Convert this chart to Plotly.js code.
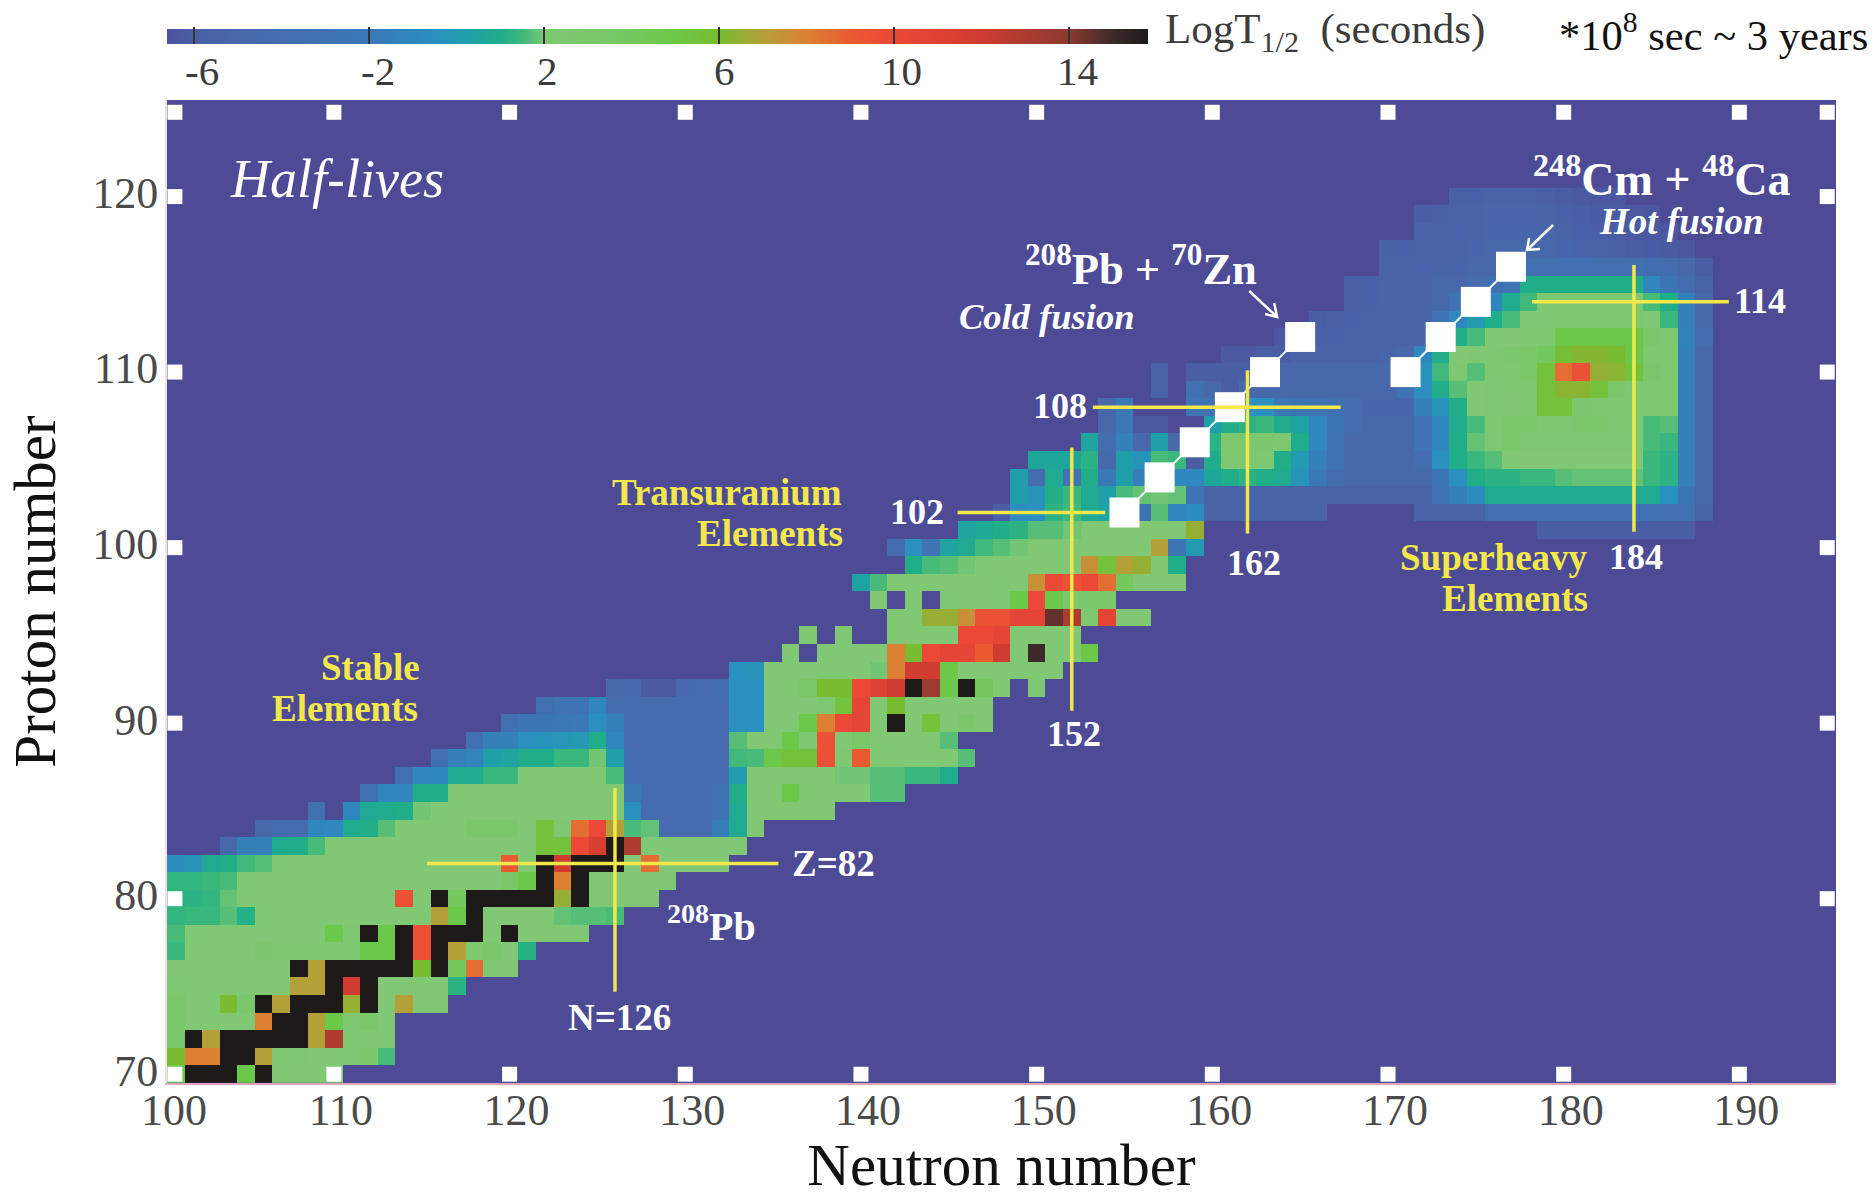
<!DOCTYPE html>
<html><head><meta charset="utf-8">
<script src="https://cdn.plot.ly/plotly-3.0.1.min.js"></script>
<style>html,body{margin:0;padding:0;background:#fff}#chart{width:1874px;height:1198px}</style>
</head><body><div id="chart"></div>
<script>
// Each row: first neutron number, then log10(T1/2); null = no nuclide (background)
const row70=[101,5,16,16,16,5,16,2,2,2,2];
const row71=[101,6,8,8,16,16,7,2,2.2,2,2,2.5,3,1.6];
const row72=[101,3,16,7,16,16,16,16,16,7,13,2,2,2];
const row73=[101,3,2,2,2,2,8,16,16,7,5,2.5,3,2];
const row74=[101,3,2,2,6,3,16,7,16,16,16,6.5,16,2,7,2,2];
const row75=[101,2.5,2,2,2,2,2,2,7,7,16,12,16,2,2,2,2,1.2];
const row76=[101,2,2,2,2,2,2,2,16,7,16,16,16,16,16,6,16,4,8.5,2,2];
const row77=[101,1.4,2,2,2,2,2.6,2.2,2.2,2.2,2.2,2.2,5,5,16,9.5,16,7,2.5,3,2,1.1];
const row78=[101,1.6,2,2,2,2,2,2,2,2,5,2.2,16,5,16,9.5,16,16,16,2,16,2,2,2,2];
const row79=[101,1.3,1.4,1.4,1.7,1.1,2,2,2,2,2,2,2,2,2,2,7,5,16,2,2,2,2,1.8,1.7,1.7,1.6];
const row80=[101,1.2,1.2,1.3,1.8,2,2,2,2,2,2,2,2,2,9.5,2,16,4,16,16,16,16,16,6.5,16,2,2,2,2];
const row81=[101,1.3,1.3,1.4,1.6,2,2,2,2,2,2,2,2,2,2,2,2,2,2,2,3.5,5,16,8,16,2,2,2,2,2];
const row82=[101,-0.6,-0.3,0.8,1,1.5,1.7,2,2,2,2,2,2,2,2,2,2,2,2,2,9,2.5,16,12,16,16,16,2,8.5,2,2,2,2];
const row83=[104,-5,-1.5,-1.5,0.9,1,1.6,2,2,2,2,2,2,2,2,2,2,2,2,5.5,5.5,10,11.5,16,13,2,2,2,2,2,2];
const row84=[106,-5,-4.5,-4.5,-1,-0.8,0.9,1,1.7,2,2,2,2,3,3,3,2,5.5,2.5,8.5,10,7,1.6,1.8,-4.5,-4.5,-4.5,-1.5,0.8,2];
const row85=[109,-3.5,null,-1,0.8,0.9,1,1.9,2,2,2,2,2,2,2,2,2,2,2,-0.5,-4,-4.5,-4.5,-4.5,-3,0.8,2,2,2,2,2];
const row86=[112,-3.5,-1,-1,1,1,2,2,2,2,2,2,2,2,2,2,-2,-4.5,-4.5,-4.5,-4.5,-3,1,2,2,5,2,2,2,2,1.7,1.7];
const row87=[114,-3.5,-1,-0.8,0.8,0.8,1.4,1.4,2,2,2,2,2,1.6,-4,-4.5,-4.5,-4.5,-4.5,-4.5,0,2,2,2,2,2,1.9,1.9,1.7,1.7,1.4,1.4,0.9];
const row88=[116,-3.5,-1.5,-1.2,0.3,0.5,1,1,1.4,1.4,1.9,0.3,-4,-4.5,-4.5,-4.5,-4.5,-4.5,1.5,1.6,5,5.5,5.5,9.5,2.5,9,2,2,2,2,2,1.7];
const row89=[118,-3.5,-1.5,-1.4,-0.5,-0.3,-0.2,-0.1,1,-1,-4.5,-4.5,-4.5,-4.5,-4.5,-4.5,1.7,2,2,5,2.5,9.5,2,3.5,2,2,2,2,1.7];
const row90=[120,-3.5,-2.5,-2.5,-2.2,-2,-0.5,-1.5,-4.5,-4.5,-4.5,-4.5,-4.5,-4.5,-0.5,-0.5,2,2,5,8,10,10.5,2,16,2,5.5,2,3,2];
const row91=[122,-3.5,-3,-3,-1,-4,-4.5,-4.5,-4.5,-4.5,-4.5,-4.5,-0.4,-0.5,2,2,2,2.5,5.5,10.5,2,6,2,2,2,2,2];
const row92=[126,-5,-4.8,-6.2,-6.2,-4.8,-4.5,-4,-0.4,-0.5,2,2.5,3.5,6,6,10,11,12,16,13.5,5,16,4,2,null,2];
const row93=[133,-0.4,-0.3,2,2,2,2,2,2,1.9,8,12,12,5,2,2,2,2,2,2];
const row94=[136,2,null,2,2,2,2,8,6,10,10.5,10.5,9,12,2,15,2,2,5];
const row95=[137,2.5,null,2,null,null,2,2,2,2,10,10,10.5,2,2,2,2];
const row96=[142,2,2,6.5,6.5,7.5,9.5,9.5,10.5,10.5,14.5,13,2.5,10.5,2,2];
const row97=[141,2,null,2,null,2,2,2,2.5,5,10,5,3,3,3];
const row98=[140,0.4,1.6,2,2,2,2,2,2,2.5,2,7.5,10,9.5,10,8.5,4,2,2,2];
const row99=[143,1,1.6,1.7,1.9,2,2,2,2,2,2,7.5,5.5,7,6.5,2,1];
const row100=[142,-4,-0.5,-3,0.5,0.8,1.5,1.7,1.9,2,2,2,2,2,2,2,7,-2.5,0];
const row101=[146,0.5,0.7,1,1.2,1.7,1.7,1.9,2,2,2,2,2,2,6.5];
const row101b=[179,-6,-6,-6,-6,-6,-6,-6,-6,-6];
const row102=[148,-6,-0.6,-0.5,1.2,1.5,0.8,0.5,1,-3,1.7,-1,-0.6,-5.5,-5.5,-5.5,-5.5,-5.5,-5.5,-5.5,null,null,null,null,null,-5.5,-5.5,-5.5,-5.5,-3.5,-3.5,-3.5,-3.5,-3.5,-3.5,-3.5,-3.5,-3.5,-3.5,-3.5,-3.5,-5.5];
const row103=[149,0.2,-0.3,1,1.4,0.8,0.3,1.6,1.8,1.9,1.8,-3,-5.5,-5.5,-5.5,-5.5,-5.5,-5.5,-5.5,-5.5,-5.5,-5.5,-5.5,-5.5,-5.5,-3,-1.5,-0.6,0.8,0.8,0.8,0.8,0.8,0.8,0.8,0.8,0.8,0.8,-0.4,-2.5,-5];
const row104=[149,0.2,-4,0.8,-3,1,-2,0.3,-1.5,1,-0.8,-0.8,0.6,1,1.2,1,0.8,-0.3,-2,-4,-5,-5,-5,-5,-5,-2.5,-0.5,1,1.2,1.2,1.4,1.4,1.7,1.8,1.8,1.8,1.8,1.4,1.2,-1.5,-5];
const row105=[150,0.6,0.6,0.6,1.2,-5,0.3,-0.3,1.6,1.4,-6,1,2.3,2.5,2.3,1,0,-1.5,-3,-5,-5,-5,-5,-4,-0.5,1,1.4,1.7,2,2,2,2,2,2,2,2,1.4,1.2,-1.5,-5];
const row106=[153,0.5,-4,-1.5,-5,0.3,-5,0,1.2,2.5,2.6,2.6,2.4,0.9,-0.8,-3,-5,-5,-5,-5,-3,-1,1,1.8,2.1,3,2.1,2.1,2.1,2.1,2.1,2.1,2.1,1.6,1.4,-1.5,-5];
const row107=[154,-5,-2,-6.3,-6.3,null,null,0.3,1,1.2,1.4,0.9,0.4,-1,-2.5,-4,-5,-5,-5,-3,-1,0.9,1.6,2.2,3.4,3,2.2,2.2,3,3,2.2,2.2,1.6,1.7,-1.5,-5];
const row108=[154,-5,-2,null,null,null,-3,-3,-1,-0.5,-0.5,-2,-2.5,-3,-3.5,-4.5,-5.2,-5.2,-5.2,-1.5,-0.3,1,2,2.5,2,2.2,5.5,5.5,2.6,2.4,2.2,2.2,2.2,2.2,-1.5,-5];
const row109=[157,-5.5,null,-3.5,-5,-6,-5,-5,-5,-5,-5,-5,-5,-5,-5,-3,-0.5,1,1.7,2,2.1,2.2,2.2,5.5,6.3,6.3,5.5,3,2.5,2.2,2.2,-1.5,-5];
const row110=[157,-5.5,null,-6,-6,-6,-6,-5,-5,-5,-5,-5,-5,-5,-5,-3,-0.3,1.5,2.2,1.7,2.2,2.2,3,5.5,8.5,9.5,6.5,6.3,5.5,3,2.2,-1.5,-5];
const row111=[161,-6.3,-6.3,-6,-6,-5.5,-5.5,-5.5,-5.5,-5.5,-5.3,-5,-1,1,2,2.1,2.5,2.8,3,4,5.8,6.2,6.2,6,5,2.5,2.2,-1.5,-5];
const row112=[164,-6.3,-6,-5.8,-5.7,-5.6,-5.5,-5.5,-5.5,-5.5,-1,1,1.6,2,2,2.2,2.2,5,5,5,5,5,3,2.2,-1.3,-4.5];
const row113=[166,-6,-5.8,-5.7,-5.6,-5.5,-5.5,-5.3,-3,-1,0,1,1.6,2,2.2,2.2,2.2,2.2,2.2,2.2,2,1.4,-1.5,-5];
const row114=[168,-5.8,-5.7,-5.5,-5.5,-5.3,-5,-3,-1,-1,0.9,1.5,2.5,2.5,2.5,2.5,2.5,2.5,1.6,1,-1.5,-5];
const row115=[168,-5.8,-5.7,-5.5,-5.5,-5.3,-5,-5,-4.5,-3.5,-3,1,1,1,1,1,1,1,-1,-2.5,-4,-5.5];
const row116=[170,-5.6,-5.5,-5.4,-5.3,-5.2,-5,-5,-4,-3.5,-3.5,-3.5,-3.5,-3.5,-3.5,-3.5,-3.8,-4,-5,-6];
const row117=[170,-5.8,-5.7,-5.6,-5.5,-5.3,-5.2,-5,-5,-5,-5,-5.2,-5.4,-5.6,-5.8,-6,-6.1,-6.2,-6.4];
const row118=[172,-5.6,-5.5,-5.4,-5.3,-5.2,-5.2,-5.2,-5.3,-5.5,-5.7,-5.9,-6,-6.2,-6.3,-6.4];
const row119=[172,-6,-5.8,-5.6,-5.5,-5.4,-5.4,-5.4,-5.5,-5.7,-5.9,-6.1,-6.2,-6.3,-6.4];
const row120=[174,-5.8,-5.7,-5.6,-5.6,-5.6,-5.8,-6,-6.2,-6.3,-6.4];
const rowList=[[70,row70],[71,row71],[72,row72],[73,row73],[74,row74],[75,row75],[76,row76],[77,row77],[78,row78],[79,row79],
[80,row80],[81,row81],[82,row82],[83,row83],[84,row84],[85,row85],[86,row86],[87,row87],[88,row88],[89,row89],
[90,row90],[91,row91],[92,row92],[93,row93],[94,row94],[95,row95],[96,row96],[97,row97],[98,row98],[99,row99],
[100,row100],[101,row101],[101,row101b],[102,row102],[103,row103],[104,row104],[105,row105],[106,row106],[107,row107],[108,row108],[109,row109],
[110,row110],[111,row111],[112,row112],[113,row113],[114,row114],[115,row115],[116,row116],[117,row117],[118,row118],[119,row119],[120,row120]];

const neutrons=[];for(let n=101;n<=195;n++)neutrons.push(n);
const protons=[];for(let p=70;p<=120;p++)protons.push(p);
const cells=protons.map(()=>neutrons.map(()=>null));
rowList.forEach(([p,r])=>{r.slice(1).forEach((v,i)=>{cells[p-70][r[0]+i-101]=v;});});

// Colour key
const keyValues=[-6.64,-6,-5,-2,-0.5,0.3,1,1.6,2,3.5,5,6,7,8,9,10,12,14,15,15.8];
const keyColors=['#4b539e','#4a5ea6','#4868ac','#3a78b6','#2b8fc0','#1fa0a8','#1fae88','#48bb78','#80c874','#78c868','#6cc848','#78bc30','#b4a038','#dc8034','#ea5a30','#ec4838','#d03c30','#8a3a30','#3c2a2a','#1e1a1a'];
const zLow=keyValues[0],zHigh=keyValues[keyValues.length-1];
const colorscale=keyValues.map((v,i)=>[(v-zLow)/(zHigh-zLow),keyColors[i]]);
const keyTicks=[-6,-2,2,6,10,14];
const keyLabelX=[202,378,547,724,901,1077];

// Reaction chains
const coldN=[155,157,159,161,163,165],coldZ=[102,104,106,108,110,112];
const hotN=[171,173,175,177],hotZ=[110,112,114,116];
// Frame ticks
const xTickVals=[100.5,110,120,130,140,150,160,170,180,190];
const xTickText=['100','110','120','130','140','150','160','170','180','190'];
const yTickVals=[70,80,90,100,110,120];
const frameTopN=[100.95,110,120,130,140,150,160,170,180,190];
const frameSideZ=[80,90,100,110,120];

const SERIF='"Liberation Serif","Times New Roman",serif';
const L=166.5,R=1836,T=100,B=1083;
const pxX=x=>(x-L)/(R-L),pxY=y=>(B-y)/(B-T);
function ann(text,x,y,size,color,anchor){return {text,x:pxX(x),y:pxY(y),xref:'paper',yref:'paper',showarrow:false,xanchor:anchor||'center',yanchor:'middle',font:{family:SERIF,size,color}};}
const YEL='#f2e84a',WH='#ffffff';
const annotations=[
 ann('<i>Half-lives</i>',337,179,54,WH),
 ann('<b>Stable</b>',370,667,37,YEL),ann('<b>Elements</b>',345,708,37,YEL),
 ann('<b>Transuranium</b>',727,492,37,YEL),ann('<b>Elements</b>',770,533,37,YEL),
 ann('<b>Superheavy</b>',1494,557,37,YEL),ann('<b>Elements</b>',1515,598,37,YEL),
 ann('<b>102</b>',917,512,36,WH),ann('<b>108</b>',1060,406,36,WH),ann('<b>152</b>',1074,734,36,WH),
 ann('<b>162</b>',1254,563,36,WH),ann('<b>184</b>',1636,557,36,WH),ann('<b>114</b>',1760,301,36,WH),
 ann('<b>Z=82</b>',833,863,37,WH),ann('<b>N=126</b>',619,1017,37,WH),
 ann('<b><sup>208</sup>Pb</b>',711,923,40,WH),
 ann('<b><sup>208</sup>Pb + <sup>70</sup>Zn</b>',1141,265,44.5,WH),ann('<b><i>Cold fusion</i></b>',1046,316,36.5,WH),
 ann('<b><sup>248</sup>Cm + <sup>48</sup>Ca</b>',1661,176,46,WH),ann('<b><i>Hot fusion</i></b>',1681,221,37,WH),
 ann('LogT<sub>1/2</sub>&nbsp; (seconds)',1163,32,43,'#3c3c3c','left'),
 ann('*10<sup>8</sup> sec ~ 3 years',1557,32,42.5,'#111111','left')
].concat(keyTicks.map((t,i)=>ann(String(t),keyLabelX[i],71,41,'#3c3c3c')));
function seg(x0,y0,x1,y1){return {type:'line',xref:'x',yref:'y',x0,y0,x1,y1,line:{color:YEL,width:3.5}};}
function arrowPath(d){return {type:'path',xref:'paper',yref:'paper',path:d,line:{color:WH,width:2.5}};}
const P=(x,y)=>pxX(x)+','+pxY(y);
const shapes=[
 seg(115.3,82,135.3,82),seg(126,86.3,126,74.7),
 seg(145.5,102,153.9,102),seg(152,105.7,152,90.7),
 seg(153.2,108,167.3,108),seg(162,110.1,162,100.8),
 seg(178.2,114,189.4,114),seg(184,116.1,184,100.9),
 arrowPath('M'+P(1249,291)+' L'+P(1277,317)+' M'+P(1265,314)+' L'+P(1277,317)+' L'+P(1274,303)),
 arrowPath('M'+P(1553,225)+' L'+P(1527,250)+' M'+P(1540,249)+' L'+P(1527,250)+' L'+P(1529,238))
];
const sideN=[];const sideZ=[];
frameTopN.forEach(n=>{sideN.push(n);sideZ.push(124.8);});
frameTopN.forEach(n=>{sideN.push(n);sideZ.push(70);});
frameSideZ.forEach(z=>{sideN.push(100.95);sideZ.push(z);sideN.push(195);sideZ.push(z);});
sideN.push(195);sideZ.push(124.8);

const traces=[
 {type:'heatmap',x:neutrons,y:protons,z:cells,zmin:zLow,zmax:zHigh,colorscale,hoverongaps:false,
  colorbar:{orientation:'h',lenmode:'pixels',len:981,thickness:15,x:pxX(166),xanchor:'left',y:pxY(29),yanchor:'top',
   xpad:0,ypad:0,outlinewidth:0,tickmode:'array',tickvals:keyTicks,ticks:'inside',ticklen:17,tickwidth:2,tickcolor:'#333333',showticklabels:false}},
 {type:'scatter',mode:'lines+markers',x:coldN,y:coldZ,line:{color:'#e8fff8',width:2},marker:{symbol:'square',size:30,color:'#ffffff'},showlegend:false,hoverinfo:'skip'},
 {type:'scatter',mode:'lines+markers',x:hotN,y:hotZ,line:{color:'#e8fff8',width:2},marker:{symbol:'square',size:30,color:'#ffffff'},showlegend:false,hoverinfo:'skip'},
 {type:'scatter',mode:'markers',x:sideN,y:sideZ,marker:{symbol:'square',size:15,color:'#ffffff'},showlegend:false,hoverinfo:'skip',cliponaxis:false}
];
const layout={width:1874,height:1198,paper_bgcolor:'#ffffff',plot_bgcolor:'#4d4b96',
 margin:{l:L,r:1874-R,t:T,b:1198-B,pad:0,autoexpand:false},showlegend:false,
 xaxis:{range:[100.5,195.5],tickmode:'array',tickvals:xTickVals,ticktext:xTickText,ticklabelshift:7,ticklabelstandoff:-13,showgrid:false,zeroline:false,ticks:'',showline:true,linecolor:'#dba6b8',linewidth:2,
  tickfont:{family:SERIF,size:44,color:'#4a4a4a'},title:{text:'Neutron number',standoff:32,font:{family:SERIF,size:59,color:'#111111'}},automargin:false},
 yaxis:{range:[69.5,125.5],tickmode:'array',tickvals:yTickVals,ticktext:yTickVals.map(String),ticklabelshift:-4,ticklabelstandoff:-2,showgrid:false,zeroline:false,ticks:'',showline:true,linecolor:'#f0dfe4',linewidth:2,
  tickfont:{family:SERIF,size:44,color:'#4a4a4a'},title:{text:'Proton number',standoff:18,font:{family:SERIF,size:59,color:'#111111'}},automargin:false},
 annotations,shapes};
Plotly.newPlot('chart',traces,layout,{displayModeBar:false,responsive:false});
</script></body></html>
